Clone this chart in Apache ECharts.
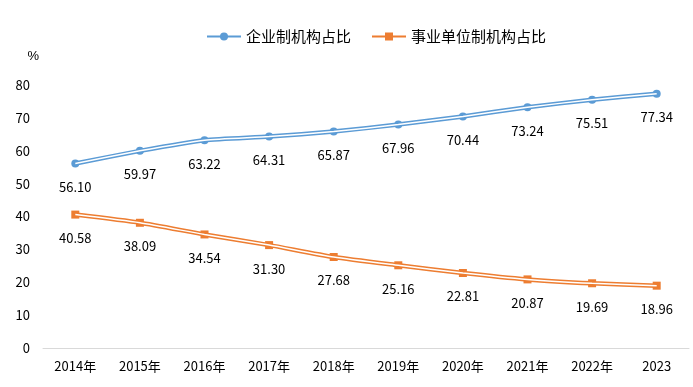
<!DOCTYPE html>
<html><head><meta charset="utf-8">
<script src="https://cdn.jsdelivr.net/npm/echarts@6/dist/echarts.min.js"></script>
<style>html,body{margin:0;padding:0;background:#fff}#c{width:693px;height:387px}</style>
</head><body><div id="c"></div>
<script>
const categories = ['2014年','2015年','2016年','2017年','2018年','2019年','2020年','2021年','2022年','2023'];
const enterprise = [56.10,59.97,63.22,64.31,65.87,67.96,70.44,73.24,75.51,77.34];
const institution = [40.58,38.09,34.54,31.30,27.68,25.16,22.81,20.87,19.69,18.96];
const yTicks = {min:0, max:80, interval:10};

const font = '"Noto Sans CJK SC", "Noto Sans", sans-serif';
const blue = '#5B9BD5', orange = '#ED7D31';
function labelCfg(){return {show:true, position:'bottom', distance:13, color:'#000', fontSize:13, fontFamily:font, formatter:p=>p.value.toFixed(2)};}
const chart = echarts.init(document.getElementById('c'));
chart.setOption({
  animation:false,
  legend:{top:24, left:201, itemGap:20, itemWidth:34, itemHeight:10, data:['企业制机构占比','事业单位制机构占比'], textStyle:{fontSize:15, color:'#000', fontFamily:font}},
  grid:{left:43, right:4, top:85, bottom:39},
  xAxis:{type:'category', data:categories, boundaryGap:true, axisLine:{lineStyle:{color:'#d9d9d9'}}, axisTick:{show:false}, axisLabel:{color:'#000', fontSize:13, fontFamily:font, margin:12}},
  yAxis:{type:'value', min:yTicks.min, max:yTicks.max, interval:yTicks.interval, name:'%', nameGap:22, nameTextStyle:{color:'#000', fontSize:13, align:'right', padding:[0,4,0,0]}, splitLine:{show:false}, axisLine:{show:false}, axisTick:{show:false}, axisLabel:{color:'#000', fontSize:13, fontFamily:font, margin:13}},
  series:[
    {name:'企业制机构占比', type:'line', data:enterprise, smooth:0.2, symbol:'circle', symbolSize:8, itemStyle:{color:blue}, lineStyle:{color:blue, width:4.5}, label:labelCfg(), z:2},
    {name:'enterprise_inner', type:'line', data:enterprise, smooth:0.2, symbol:'none', lineStyle:{color:'#fff', width:1.5}, z:3, silent:true},
    {name:'事业单位制机构占比', type:'line', data:institution, smooth:0.2, symbol:'rect', symbolSize:8, itemStyle:{color:orange}, lineStyle:{color:orange, width:4.5}, label:labelCfg(), z:2},
    {name:'institution_inner', type:'line', data:institution, smooth:0.2, symbol:'none', lineStyle:{color:'#fff', width:1.5}, z:3, silent:true}
  ]
});
</script></body></html>
